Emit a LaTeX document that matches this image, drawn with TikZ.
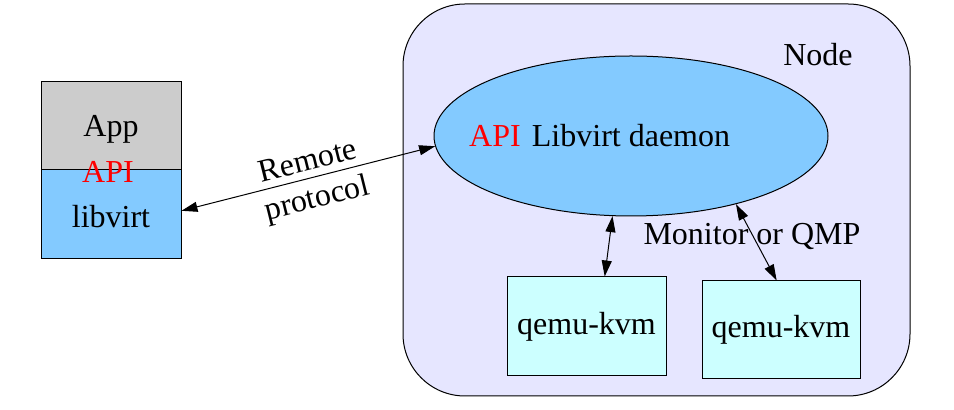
\documentclass[tikz,border=0pt]{standalone}
\usepackage{fontspec}
\setmainfont{Liberation Serif}
\usetikzlibrary{shapes.geometric,arrows.meta}
\definecolor{appgray}{HTML}{CCCCCC}
\definecolor{libblue}{HTML}{83CAFF}
\definecolor{nodelav}{HTML}{E6E6FF}
\definecolor{qemucyan}{HTML}{CCFFFF}
\begin{document}
\begin{tikzpicture}[x=0.5pt, y=-0.5pt,
  every node/.style={font=\fontsize{16}{19}\selectfont},
  box/.style={draw, line width=0.5pt, rectangle, inner sep=0pt},
  link/.style={{Triangle[length=8pt,width=5pt]}-{Triangle[length=8pt,width=5pt]}, line width=0.5pt}]
\useasboundingbox (0,0) rectangle (954,410);
%host with the libvirt daemon
\node [box, rounded corners=31pt, fill=nodelav, minimum width=253.5pt, minimum height=196pt] (host) at (656.5,200) {};
\node at (818,55) (hostlabel) {Node};
\node [draw, line width=0.5pt, ellipse, fill=libblue, minimum width=197pt, minimum height=80pt, inner sep=0pt] (daemon) at (631,136) {};
\node [text=red] at (495,136) (daemonapi) {API};
\node at (631,136) (daemonlabel) {Libvirt daemon};
%guests
\node [box, fill=qemucyan, minimum width=79.5pt, minimum height=49.5pt] (qemu1) at (586.5,326.5) {qemu-kvm};
\node [box, fill=qemucyan, minimum width=79pt, minimum height=49pt] (qemu2) at (781,330) {qemu-kvm};
%client side
\node [box, fill=appgray, minimum width=70pt, minimum height=44pt] (app) at (111,126) {};
\node at (111,129) (applabel) {App};
\node [box, fill=libblue, minimum width=70pt, minimum height=44.5pt] (libvirt) at (111,214.5) {};
\node at (111,217) (libvirtlabel) {libvirt};
\node [text=red] at (108,172) (appapi) {API};
%connections
\draw [link] (libvirt.3) -- (daemon.183);
\node [rotate=14, align=center] at (313,182) (remote) {Remote\\protocol};
\draw [link] (daemon.257) -- (qemu1.70);
\draw [link] (daemon.327) -- (qemu2.95);
\node at (752,237) (monitor) {Monitor or QMP};
\end{tikzpicture}
\end{document}
